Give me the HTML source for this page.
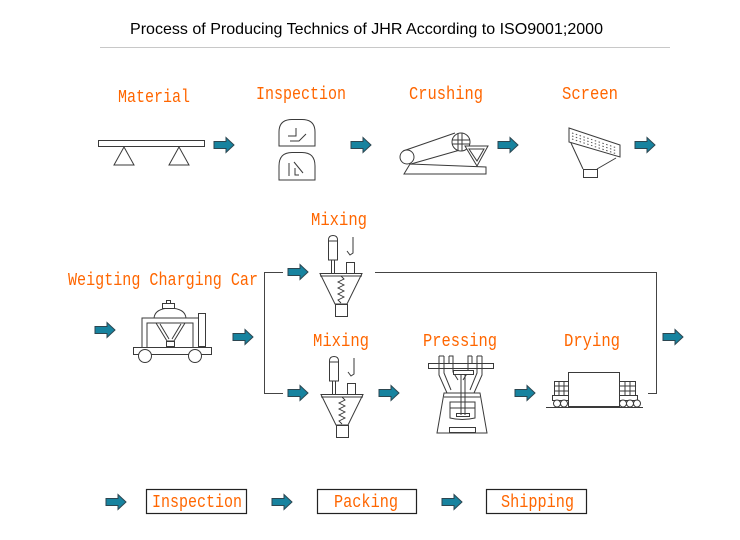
<!DOCTYPE html>
<html><head><meta charset="utf-8"><style>
html,body{margin:0;padding:0;background:#fff;}
svg{display:block;}
.t{font-family:"Liberation Mono","DejaVu Sans Mono",monospace;font-size:18px;fill:#ff6600;}
.d{fill:none;stroke:#3a3a3a;stroke-width:1;}
.w{fill:#fff;stroke:#3a3a3a;stroke-width:1;}
</style></head><body>
<svg width="740" height="540" viewBox="0 0 740 540" xmlns="http://www.w3.org/2000/svg">
<defs>
<g id="ar"><polygon points="0,4 12,4 12,0 20,7.5 12,15 12,11 0,11" fill="#17839f" stroke="#2c4650" stroke-width="1"/></g>
</defs>
<text x="130" y="34" font-family="Liberation Sans, Arial, sans-serif" font-size="16" fill="#000" textLength="473" lengthAdjust="spacingAndGlyphs">Process of Producing Technics of JHR According to ISO9001;2000</text>
<line x1="100" y1="47.5" x2="670" y2="47.5" stroke="#c8c8c8" stroke-width="1"/>

<!-- labels -->
<text class="t" x="118" y="102" textLength="72" lengthAdjust="spacingAndGlyphs">Material</text>
<text class="t" x="256" y="99" textLength="90" lengthAdjust="spacingAndGlyphs">Inspection</text>
<text class="t" x="409" y="99" textLength="74" lengthAdjust="spacingAndGlyphs">Crushing</text>
<text class="t" x="562" y="99" textLength="56" lengthAdjust="spacingAndGlyphs">Screen</text>
<text class="t" x="311" y="225" textLength="56" lengthAdjust="spacingAndGlyphs">Mixing</text>
<text class="t" x="68" y="285" textLength="190" lengthAdjust="spacingAndGlyphs">Weigting Charging Car</text>
<text class="t" x="313" y="346" textLength="56" lengthAdjust="spacingAndGlyphs">Mixing</text>
<text class="t" x="423" y="346" textLength="74" lengthAdjust="spacingAndGlyphs">Pressing</text>
<text class="t" x="564" y="346" textLength="56" lengthAdjust="spacingAndGlyphs">Drying</text>

<!-- arrows -->
<use href="#ar" x="214" y="137.5"/>
<use href="#ar" x="351" y="137.5"/>
<use href="#ar" x="498" y="137.5"/>
<use href="#ar" x="635" y="137.5"/>
<use href="#ar" x="95" y="322.5"/>
<use href="#ar" x="233" y="329.5"/>
<use href="#ar" x="288" y="264.5"/>
<use href="#ar" x="288" y="385.5"/>
<use href="#ar" x="379" y="385.5"/>
<use href="#ar" x="515" y="385.5"/>
<use href="#ar" x="663" y="329.5"/>
<use href="#ar" x="106" y="494.5"/>
<use href="#ar" x="272" y="494.5"/>
<use href="#ar" x="442" y="494.5"/>

<!-- material scale -->
<rect class="d" x="98.5" y="140.5" width="106" height="6"/>
<polygon class="d" points="124,147 114,165 134,165"/>
<polygon class="d" points="179,147 169,165 189,165"/>

<!-- inspection -->
<path class="d" d="M279 146 V132 Q279 119.5 292 119.5 H302 Q315 119.5 315 132 V146 Z"/>
<path class="d" d="M288 136 H296 V128 M290 141 H299 L306 134"/>
<path class="d" d="M279 180 V166 Q279 152.5 292 152.5 H302 Q315 152.5 315 166 V180 Z"/>
<path class="d" d="M289 163 V176 M294 162 L303 173 M295 168 V175 H299"/>

<!-- crushing -->
<polygon class="d" points="404,174 486,174 486,167 410,164"/>
<path class="d" d="M403 151 L455 133 M411 164 L467 148"/>
<circle class="w" cx="407" cy="157" r="7"/>
<circle class="w" cx="461" cy="142" r="9"/>
<path class="d" d="M458 133 V151 M462 133 V151 M452 140 H470 M452 144 H470"/>
<polygon class="w" points="465,146 488,146 477,166"/>
<polygon class="d" points="469,149 484,149 477,161"/>

<!-- screen -->
<polygon class="d" points="569,128 620,145 620,157 569,142"/>
<path d="M572 133 L617 148 M572 136 L617 151 M572 139 L617 154" stroke="#555" stroke-width="1" stroke-dasharray="1.5,2.5" fill="none"/>
<path class="d" d="M571 143 L583 169 M616 158 L597 169"/>
<rect class="d" x="583.5" y="169.5" width="14" height="8"/>

<!-- weighing car -->
<path class="d" d="M142 347 V318 H198 M147 347 V323 H193 V347"/>
<rect class="w" x="198.5" y="313.5" width="7" height="33"/>
<path class="w" d="M154 318 Q155 308.5 170 308 Q185 308.5 186 318 Z"/>
<rect class="w" x="162.5" y="303.5" width="12" height="5"/>
<rect class="w" x="166.5" y="300.5" width="4" height="3"/>
<polygon class="d" points="156,323 185,323 174,341 167,341"/>
<path class="d" d="M160 324 L169 339 M181 324 L172 339"/>
<rect class="d" x="166.5" y="341.5" width="8" height="5"/>
<rect class="w" x="133.5" y="347.5" width="78" height="7"/>
<circle class="w" cx="145" cy="356" r="6.5"/>
<circle class="w" cx="195" cy="356" r="6.5"/>

<!-- bracket & connector -->
<path d="M283 272.5 H264.5 V393.5 H283" fill="none" stroke="#444" stroke-width="1"/>
<path d="M375 272.5 H656.5 V393.5 H648" fill="none" stroke="#444" stroke-width="1"/>

<!-- mixers -->
<g id="mx">
<path class="d" d="M328.5 260 V240 Q328.5 235.5 333 235.5 Q337.5 235.5 337.5 240 V260 Z M328.5 241 H337.5"/>
<path class="d" d="M331.5 260 V273 M334.5 260 V273"/>
<path class="d" d="M353 237 V253 L350 255 L347 251"/>
<rect class="d" x="346.5" y="262.5" width="8" height="11"/>
<polygon class="d" points="320,273.5 362,273.5 347,304 335,304"/>
<line class="d" x1="320" y1="276" x2="362" y2="276"/>
<path d="M341 276 L344 279 L338 282 L344 285 L338 288 L344 291 L338 294 L344 297 L338 300 L341 303" fill="none" stroke="#333" stroke-width="0.9"/>
<rect class="d" x="335.5" y="304.5" width="12" height="12"/>
</g>
<use href="#mx" x="1" y="121"/>

<!-- pressing -->
<rect class="w" x="428.5" y="363.5" width="65" height="5"/>
<path class="d" d="M439 356 V375 L447 393 M444 356 V373 L451 390 M449 356 H453 V372 L458 380 M444 356 H439"/>
<path class="d" d="M482 356 V375 L474 393 M477 356 V373 L470 390 M472 356 H468 V372 L463 380 M477 356 H482"/>
<path class="d" d="M449 356 V363 M453 356 V363 M468 356 V363 M472 356 V363"/>
<rect class="w" x="453.5" y="370.5" width="20" height="4"/>
<path class="d" d="M461 374 V415 M465 374 V415"/>
<polygon class="d" points="444,393 480,393 487,433 437,433"/>
<line class="d" x1="444" y1="397" x2="480" y2="397"/>
<path class="d" d="M450 402 H475 V418 Q462 421 450 418 Z M450 408 H475"/>
<rect class="d" x="456.5" y="413.5" width="13" height="3"/>
<rect class="d" x="449.5" y="427.5" width="26" height="5"/>

<!-- drying -->
<rect class="w" x="568.5" y="372.5" width="51" height="34"/>
<line class="d" x1="546" y1="407.5" x2="643" y2="407.5"/>
<rect class="d" x="554.5" y="381.5" width="14" height="14"/>
<path class="d" d="M559 381 V395 M564 381 V395 M554 386 H568 M554 391 H568"/>
<rect class="d" x="552.5" y="395.5" width="16" height="5"/>
<circle class="w" cx="557" cy="403.5" r="3.5"/>
<circle class="w" cx="564" cy="403.5" r="3.5"/>
<rect class="d" x="619.5" y="381.5" width="16" height="14"/>
<path class="d" d="M625 381 V395 M630 381 V395 M619 386 H635 M619 391 H635"/>
<rect class="d" x="619.5" y="395.5" width="18" height="5"/>
<circle class="w" cx="623" cy="403.5" r="3.5"/>
<circle class="w" cx="630" cy="403.5" r="3.5"/>
<circle class="w" cx="637" cy="403.5" r="3.5"/>

<!-- bottom boxes -->
<rect x="146.5" y="489.5" width="100" height="24" fill="none" stroke="#222" stroke-width="1.2"/>
<rect x="317.5" y="489.5" width="99" height="24" fill="none" stroke="#222" stroke-width="1.2"/>
<rect x="486.5" y="489.5" width="100" height="24" fill="none" stroke="#222" stroke-width="1.2"/>
<text class="t" x="152" y="507" textLength="90" lengthAdjust="spacingAndGlyphs">Inspection</text>
<text class="t" x="334" y="507" textLength="64" lengthAdjust="spacingAndGlyphs">Packing</text>
<text class="t" x="501" y="507" textLength="73" lengthAdjust="spacingAndGlyphs">Shipping</text>
</svg>
</body></html>
